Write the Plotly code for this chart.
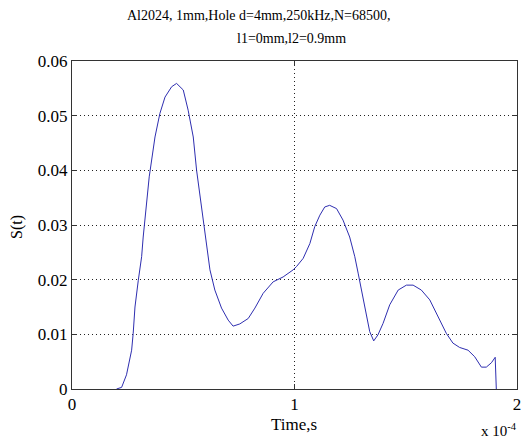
import plotly.graph_objects as go

# time in units of 1e-4 s
time_e4 = [0.200, 0.223, 0.245, 0.268, 0.275, 0.283, 0.298, 0.313, 0.320, 0.332,
           0.347, 0.373, 0.395, 0.418, 0.448, 0.470, 0.500, 0.522, 0.545, 0.560,
           0.582, 0.605, 0.620, 0.642, 0.672, 0.702, 0.724, 0.754, 0.792, 0.822,
           0.859, 0.904, 0.949, 0.994, 1.009, 1.039, 1.069, 1.091, 1.114, 1.136,
           1.158, 1.189, 1.218, 1.248, 1.271, 1.286, 1.301, 1.323, 1.338, 1.356,
           1.375, 1.398, 1.428, 1.466, 1.503, 1.533, 1.570, 1.608, 1.645, 1.682,
           1.712, 1.742, 1.780, 1.810, 1.840, 1.862, 1.885, 1.902, 1.907]
s_vals = [0.0000, 0.0003, 0.0026, 0.0071, 0.0102, 0.0150, 0.0199, 0.0242, 0.0278, 0.0324,
          0.0388, 0.0461, 0.0504, 0.0534, 0.0553, 0.0559, 0.0547, 0.0510, 0.0461, 0.0400,
          0.0333, 0.0266, 0.0218, 0.0181, 0.0148, 0.0126, 0.0115, 0.0119, 0.0129, 0.0148,
          0.0175, 0.0196, 0.0205, 0.0218, 0.0224, 0.0239, 0.0266, 0.0297, 0.0318, 0.0333,
          0.0336, 0.0330, 0.0309, 0.0278, 0.0242, 0.0212, 0.0181, 0.0138, 0.0105, 0.0088,
          0.0099, 0.0120, 0.0154, 0.0181, 0.0190, 0.0190, 0.0181, 0.0163, 0.0132, 0.0102,
          0.0084, 0.0076, 0.0071, 0.0059, 0.0040, 0.0040, 0.0048, 0.0058, 0.0000]

x_ticks = [0, 1, 2]
y_ticks = [0, 0.01, 0.02, 0.03, 0.04, 0.05, 0.06]
y_tick_text = ["0", "0.01", "0.02", "0.03", "0.04", "0.05", "0.06"]

title_line1 = "Al2024, 1mm,Hole d=4mm,250kHz,N=68500,"
title_line2 = "l1=0mm,l2=0.9mm"

FONT = "Liberation Serif, Times New Roman, serif"
L, R, T, B = 72, 8, 61, 52
W, H = 525, 441
PW, PH = W - L - R, H - T - B


def px_x(px):
    return (px - L) / PW


def px_y(py):
    return (H - B - py) / PH


fig = go.Figure()
fig.add_trace(go.Scatter(x=time_e4, y=s_vals, mode="lines",
                         line=dict(color="#2e2eb0", width=1), showlegend=False))

axis_common = dict(showline=True, linecolor="#333333", linewidth=1, mirror="ticks",
                   ticks="inside", ticklen=5, tickcolor="#333333",
                   showgrid=True, gridcolor="#222222", gridwidth=1, griddash="1px,3px",
                   zeroline=False, automargin=False,
                   tickfont=dict(family=FONT, size=17, color="black"))

fig.update_xaxes(range=[0, 2], tickvals=x_ticks, ticktext=[str(v) for v in x_ticks],
                 **axis_common)
fig.update_yaxes(range=[0, 0.06], tickvals=y_ticks, ticktext=y_tick_text,
                 **axis_common)

fig.update_layout(
    width=W, height=H,
    margin=dict(l=L, r=R, t=T, b=B, autoexpand=False),
    paper_bgcolor="white", plot_bgcolor="white",
    font=dict(family=FONT, color="black"),
    annotations=[
        dict(text=title_line1, xref="paper", yref="paper", x=px_x(259), y=px_y(15),
             xanchor="center", yanchor="middle", showarrow=False,
             font=dict(family=FONT, size=14, color="black")),
        dict(text=title_line2, xref="paper", yref="paper", x=px_x(291), y=px_y(38),
             xanchor="center", yanchor="middle", showarrow=False,
             font=dict(family=FONT, size=14, color="black")),
        dict(text="Time,s", xref="paper", yref="paper", x=px_x(294), y=px_y(424),
             xanchor="center", yanchor="middle", showarrow=False,
             font=dict(family=FONT, size=17, color="black")),
        dict(text="S(t)", xref="paper", yref="paper", x=px_x(17), y=px_y(227),
             xanchor="center", yanchor="middle", showarrow=False, textangle=-90,
             font=dict(family=FONT, size=16, color="black")),
        dict(text="x 10<sup>-4</sup>", xref="paper", yref="paper", x=px_x(519), y=px_y(430),
             xanchor="right", yanchor="middle", showarrow=False,
             font=dict(family=FONT, size=15, color="black")),
    ],
)

fig.write_html("out.html", config={"displayModeBar": False},
               post_script="document.body.style.margin='0px';")
